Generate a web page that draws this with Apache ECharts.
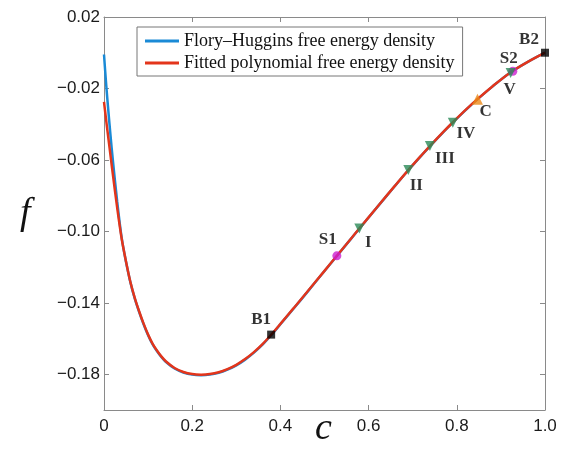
<!DOCTYPE html>
<html>
<head>
<meta charset="utf-8">
<script src="https://cdn.jsdelivr.net/npm/echarts@6/dist/echarts.min.js"></script>
<style>
  html, body { margin: 0; padding: 0; background: #fff; }
  #chart { width: 561px; height: 459px; }
</style>
</head>
<body>
<div id="chart"></div>
<script>
// Free energy density f(c): Flory–Huggins vs fitted polynomial
const concentration = [0, 0.005, 0.01, 0.015, 0.02, 0.03, 0.04, 0.05, 0.06, 0.07, 0.08, 0.09, 0.10, 0.11,
  0.12, 0.13, 0.14, 0.16, 0.18, 0.20, 0.22, 0.24, 0.26, 0.28, 0.30, 0.32, 0.34, 0.36, 0.38, 0.40,
  0.43, 0.46, 0.50, 0.53, 0.56, 0.58, 0.62, 0.66, 0.69, 0.72, 0.74, 0.77, 0.79, 0.82, 0.85, 0.88,
  0.92, 0.96, 1.00];

const floryHuggins = [-0.001, -0.018, -0.033, -0.047, -0.060, -0.0835, -0.1035, -0.1172, -0.1287, -0.1378,
  -0.1453, -0.1521, -0.1581, -0.1631, -0.1670, -0.1703, -0.1730, -0.1768, -0.1790, -0.1802, -0.1805,
  -0.1802, -0.1792, -0.1774, -0.1750, -0.1718, -0.1679, -0.1633, -0.1579, -0.1520,
  -0.1432, -0.1343, -0.1222, -0.1132, -0.1042, -0.0982, -0.0863, -0.0745, -0.0658, -0.0575,
  -0.0521, -0.0443, -0.0393, -0.0321, -0.0254, -0.0191, -0.0114, -0.0053, 0.0000];

const fittedPoly = [-0.0275, -0.038, -0.048, -0.058, -0.068, -0.087, -0.104, -0.117, -0.1285, -0.1375,
  -0.1450, -0.1518, -0.1578, -0.1628, -0.1667, -0.1700, -0.1727, -0.1765, -0.1787, -0.1799, -0.1802,
  -0.1799, -0.1789, -0.1771, -0.1747, -0.1715, -0.1676, -0.1630, -0.1576, -0.1518,
  -0.1430, -0.1341, -0.1221, -0.1131, -0.1041, -0.0981, -0.0862, -0.0744, -0.0657, -0.0574,
  -0.0520, -0.0442, -0.0392, -0.0320, -0.0253, -0.0190, -0.0113, -0.0053, 0.0000];

// Marked states on the curve
const binodalNames = ['B1', 'B2'];
const binodalC = [0.379, 1.0];
const binodalF = [-0.1578, 0.0];

const spinodalNames = ['S1', 'S2'];
const spinodalC = [0.528, 0.927];
const spinodalF = [-0.1137, -0.0104];

const quenchNames = ['I', 'II', 'III', 'IV', 'V'];
const quenchC = [0.579, 0.690, 0.739, 0.791, 0.922];
const quenchF = [-0.0984, -0.0657, -0.0522, -0.0392, -0.0113];

const criticalNames = ['C'];
const criticalC = [0.847];
const criticalF = [-0.0260];

const yTicks = [-0.18, -0.14, -0.10, -0.06, -0.02, 0.02];

// label placement relative to each marker
const labelOffset = {
  B1: [-10, -15], B2: [-16, -13],
  S1: [-9, -16], S2: [-4, -13],
  I: [9, 14], II: [8, 16], III: [15, 13], IV: [13, 11], V: [-1, 17],
  C: [8, 12]
};

const zip = (xs, ys) => xs.map((x, i) => [x, ys[i]]);
const markerData = (names, xs, ys) => names.map((n, i) => ({
  name: n, value: [xs[i], ys[i]],
  label: { offset: labelOffset[n] }
}));

const serif = '"Liberation Serif", "DejaVu Serif", serif';
const sans = '"Liberation Sans", "DejaVu Sans", sans-serif';
const axisGray = '#8a8a8a';

const markerLabel = {
  show: true, position: 'inside', formatter: '{b}',
  fontFamily: serif, fontWeight: 'bold', fontSize: 17, color: '#000'
};

const fmtNum = (v, d) => {
  const s = Math.abs(v).toFixed(d);
  return (v < -1e-9 ? '\u2212' : '') + s;
};

const frameAxis = {
  axisLine: { show: true, onZero: false, lineStyle: { color: axisGray, width: 1 } },
  splitLine: { show: false }
};

const chart = echarts.init(document.getElementById('chart'), null, { renderer: 'canvas' });

chart.setOption({
  animation: false,
  grid: { left: 104, right: 16, top: 17, bottom: 49, containLabel: false },
  xAxis: [Object.assign({
    type: 'value', position: 'bottom', min: 0, max: 1, interval: 0.2,
    axisTick: { show: true, inside: true, length: 5, lineStyle: { color: axisGray } },
    axisLabel: {
      color: '#1a1a1a', fontFamily: sans, fontSize: 17, margin: 8,
      formatter: v => v === 0 ? '0' : v.toFixed(1)
    }
  }, frameAxis), Object.assign({
    type: 'value', position: 'top', min: 0, max: 1, interval: 0.2,
    axisTick: { show: true, inside: true, length: 5, lineStyle: { color: axisGray } },
    axisLabel: { show: false }
  }, frameAxis)],
  yAxis: [Object.assign({
    type: 'value', position: 'left', min: -0.2, max: 0.02,
    axisTick: { show: true, inside: true, length: 5, customValues: yTicks, lineStyle: { color: axisGray } },
    axisLabel: {
      color: '#1a1a1a', fontFamily: sans, fontSize: 17, margin: 4,
      customValues: yTicks, formatter: v => fmtNum(v, 2)
    }
  }, frameAxis), Object.assign({
    type: 'value', position: 'right', min: -0.2, max: 0.02,
    axisTick: { show: true, inside: true, length: 5, customValues: yTicks, lineStyle: { color: axisGray } },
    axisLabel: { show: false }
  }, frameAxis)],
  legend: {
    orient: 'vertical', left: 137, top: 27,
    backgroundColor: '#fff', borderColor: '#777', borderWidth: 1, borderRadius: 0,
    padding: [5, 8, 4, 8], itemGap: 4,
    itemWidth: 34, itemHeight: 3, icon: 'rect',
    textStyle: { fontFamily: serif, fontSize: 18, color: '#111' },
    data: ['Flory\u2013Huggins free energy density', 'Fitted polynomial free energy density']
  },
  graphic: [{
    type: 'text', left: 315, top: 410,
    style: { text: 'c', fontFamily: serif, fontStyle: 'italic', fontSize: 38, fill: '#111' }
  }, {
    type: 'text', left: 20, top: 195,
    style: { text: 'f', fontFamily: serif, fontStyle: 'italic', fontSize: 38, fill: '#111' }
  }],
  series: [{
    name: 'Flory\u2013Huggins free energy density', type: 'line',
    data: zip(concentration, floryHuggins), showSymbol: false, smooth: 0.3,
    lineStyle: { color: '#1a8ad6', width: 2.5 }, itemStyle: { color: '#1a8ad6' }, z: 2
  }, {
    name: 'Fitted polynomial free energy density', type: 'line',
    data: zip(concentration, fittedPoly), showSymbol: false, smooth: 0.3,
    lineStyle: { color: '#e3351b', width: 2.5 }, itemStyle: { color: '#e3351b' }, z: 3
  }, {
    type: 'scatter', symbol: 'rect', symbolSize: 8,
    itemStyle: { color: '#000' }, label: markerLabel,
    data: markerData(binodalNames, binodalC, binodalF), z: 5
  }, {
    type: 'scatter', symbol: 'circle', symbolSize: 9,
    itemStyle: { color: '#cc1fd0' }, label: markerLabel,
    data: markerData(spinodalNames, spinodalC, spinodalF), z: 5
  }, {
    type: 'scatter', symbol: 'triangle', symbolSize: 10, symbolRotate: 180,
    itemStyle: { color: '#2a8a58' }, label: markerLabel,
    data: markerData(quenchNames, quenchC, quenchF), z: 6
  }, {
    type: 'scatter', symbol: 'triangle', symbolSize: 11,
    itemStyle: { color: '#ec8a18' }, label: markerLabel,
    data: markerData(criticalNames, criticalC, criticalF), z: 5
  }]
});
</script>
</body>
</html>
